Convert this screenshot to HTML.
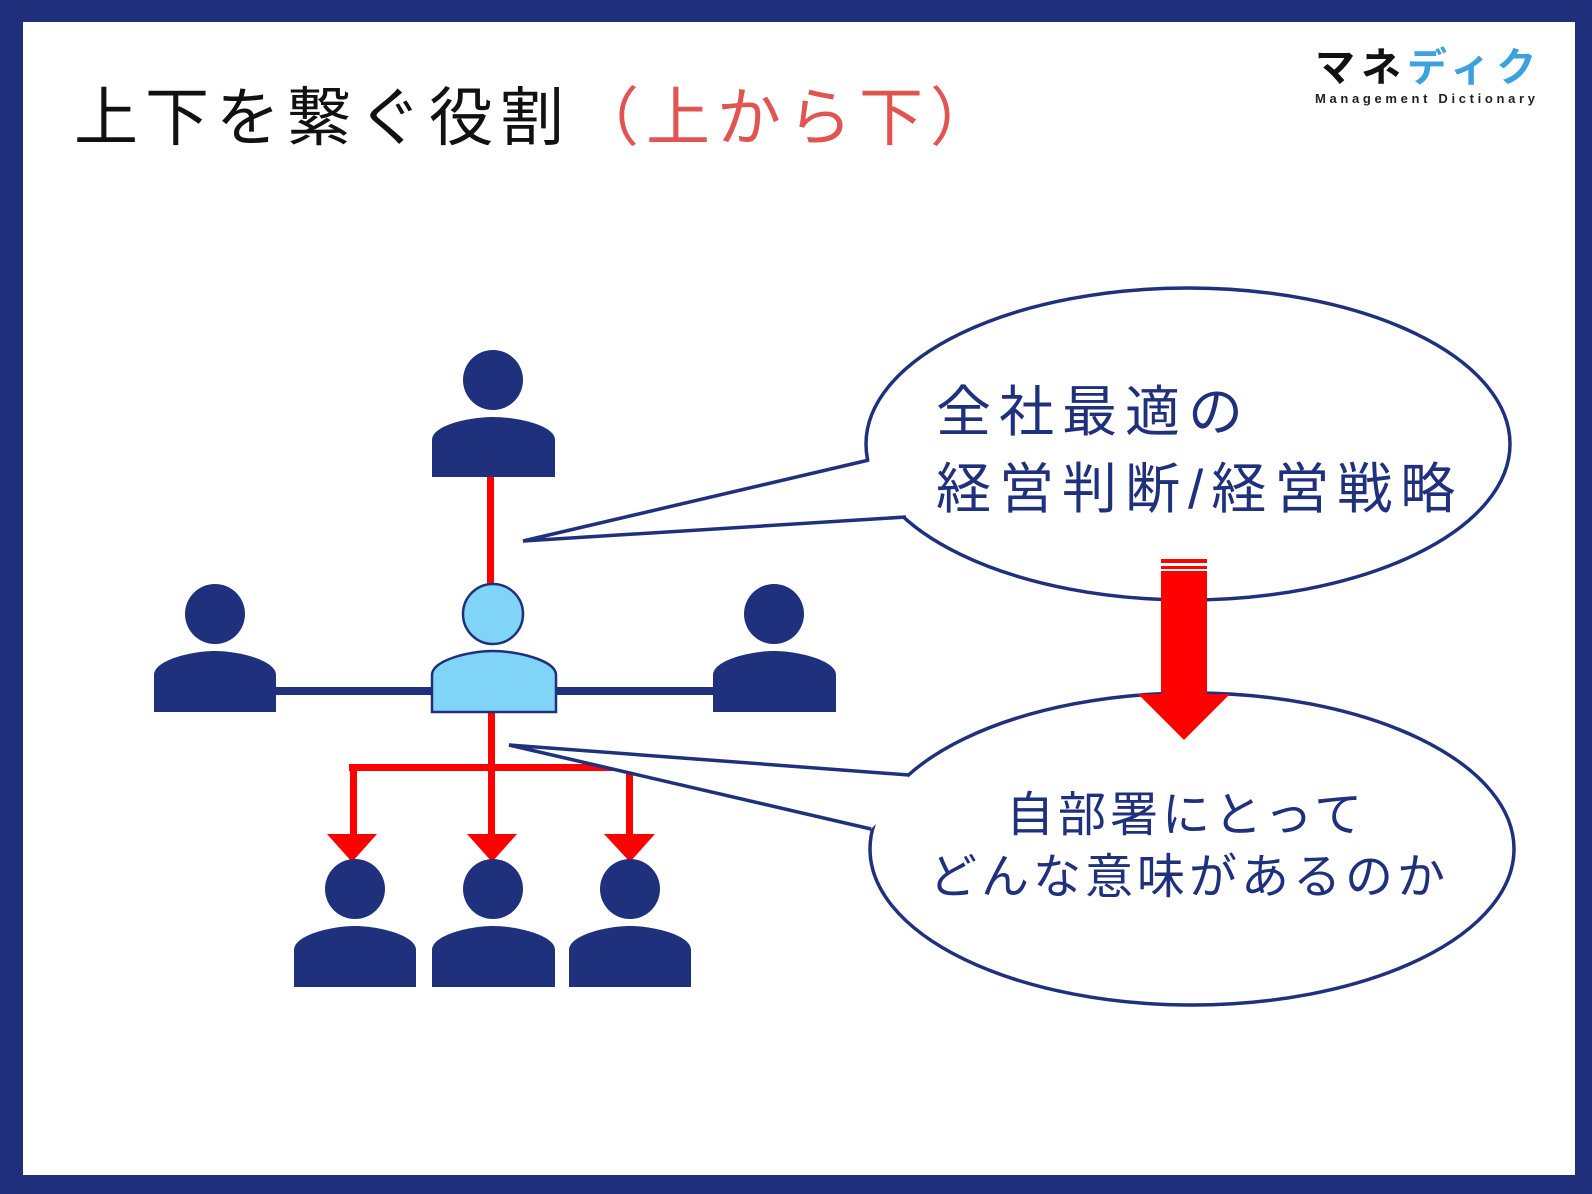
<!DOCTYPE html>
<html><head><meta charset="utf-8"><style>
html,body{margin:0;padding:0;background:#fff;}
svg{display:block;}
text{font-family:"Liberation Sans","Noto Sans CJK JP",sans-serif;}
</style></head><body>
<svg width="1592" height="1194" viewBox="0 0 1592 1194" xmlns="http://www.w3.org/2000/svg">
<rect x="0" y="0" width="1592" height="1194" fill="#1f2f7c"/>
<rect x="23" y="22" width="1552" height="1153" fill="#ffffff"/>

<!-- title -->
<text x="74" y="140" font-size="64" letter-spacing="7" fill="#111">上下を繋ぐ役割<tspan fill="#e05552" dx="4">（上から下）</tspan></text>

<!-- logo -->
<text x="1315" y="81" font-size="40" font-weight="bold" letter-spacing="6" fill="#111">マネ<tspan fill="#3aa2dc">ディク</tspan></text>
<text x="1315" y="103" font-size="13" font-weight="bold" fill="#222" textLength="220" lengthAdjust="spacing">Management Dictionary</text>

<!-- connecting lines -->
<rect x="487" y="470" width="7" height="150" fill="#ff0000"/>
<rect x="270" y="687" width="450" height="8" fill="#1f307c"/>
<rect x="488" y="712" width="7" height="125" fill="#ff0000"/>
<rect x="349" y="764" width="283" height="7" fill="#ff0000"/>
<rect x="350" y="764" width="7" height="72" fill="#ff0000"/>
<rect x="626" y="764" width="7" height="72" fill="#ff0000"/>
<polygon points="327,834 377,834 352,862" fill="#ff0000"/>
<polygon points="467,834 517,834 492,862" fill="#ff0000"/>
<polygon points="604,834 655,834 630,862" fill="#ff0000"/>

<!-- people -->
<g fill="#1f307c">
  <circle cx="493" cy="380" r="30"/>
  <path d="M432 477 V440 C432 425 470 417 493 417 C516 417 555 425 555 440 V477 Z"/>
  <circle cx="215" cy="614" r="30"/>
  <path d="M154 712 V675 C154 660 192 651 215 651 C238 651 276 660 276 675 V712 Z"/>
  <circle cx="774" cy="614" r="30"/>
  <path d="M713 712 V675 C713 660 751 651 774 651 C797 651 836 660 836 675 V712 Z"/>
  <circle cx="355" cy="889" r="30"/>
  <path d="M294 987 V950 C294 935 332 926 355 926 C378 926 416 935 416 950 V987 Z"/>
  <circle cx="493" cy="889" r="30"/>
  <path d="M432 987 V950 C432 935 470 926 493 926 C516 926 555 935 555 950 V987 Z"/>
  <circle cx="630" cy="889" r="30"/>
  <path d="M569 987 V950 C569 935 607 926 630 926 C653 926 691 935 691 950 V987 Z"/>
</g>
<g fill="#80d4f8" stroke="#1f307c" stroke-width="2.5">
  <circle cx="493" cy="614" r="30"/>
  <path d="M432 712 V675 C432 660 470 651 493 651 C516 651 556 660 556 675 V712 Z"/>
</g>

<!-- upper callout -->
<ellipse cx="1188" cy="444" rx="322" ry="156" fill="#fff" stroke="#1f307c" stroke-width="3.5"/>
<polygon points="869,460 523,541 906,517 930,480" fill="#fff"/>
<polyline points="869,460 523,541 906,517" fill="none" stroke="#1f307c" stroke-width="3.5"/>

<!-- lower callout -->
<ellipse cx="1192" cy="849" rx="322" ry="156" fill="#fff" stroke="#1f307c" stroke-width="3.5"/>
<polygon points="909,775 509,745 871,829 900,800" fill="#fff"/>
<polyline points="909,775 509,745 871,829" fill="none" stroke="#1f307c" stroke-width="3.5"/>

<!-- big red arrow -->
<rect x="1161" y="559" width="46" height="4" fill="#ff0000"/>
<rect x="1161" y="566" width="46" height="3" fill="#ff0000"/>
<rect x="1161" y="571" width="46" height="124" fill="#ff0000"/>
<polygon points="1138,694 1230,694 1184,740" fill="#ff0000"/>

<!-- callout texts -->
<g fill="#1f307c">
<text x="936" y="431" font-size="55" letter-spacing="8">全社最適の</text>
<text x="936" y="508" font-size="55" letter-spacing="8">経営判断/経営戦略</text>
<text x="1006" y="831" font-size="48" letter-spacing="4">自部署にとって</text>
<text x="929" y="893" font-size="48" letter-spacing="4">どんな意味があるのか</text>
</g>
</svg>
</body></html>
